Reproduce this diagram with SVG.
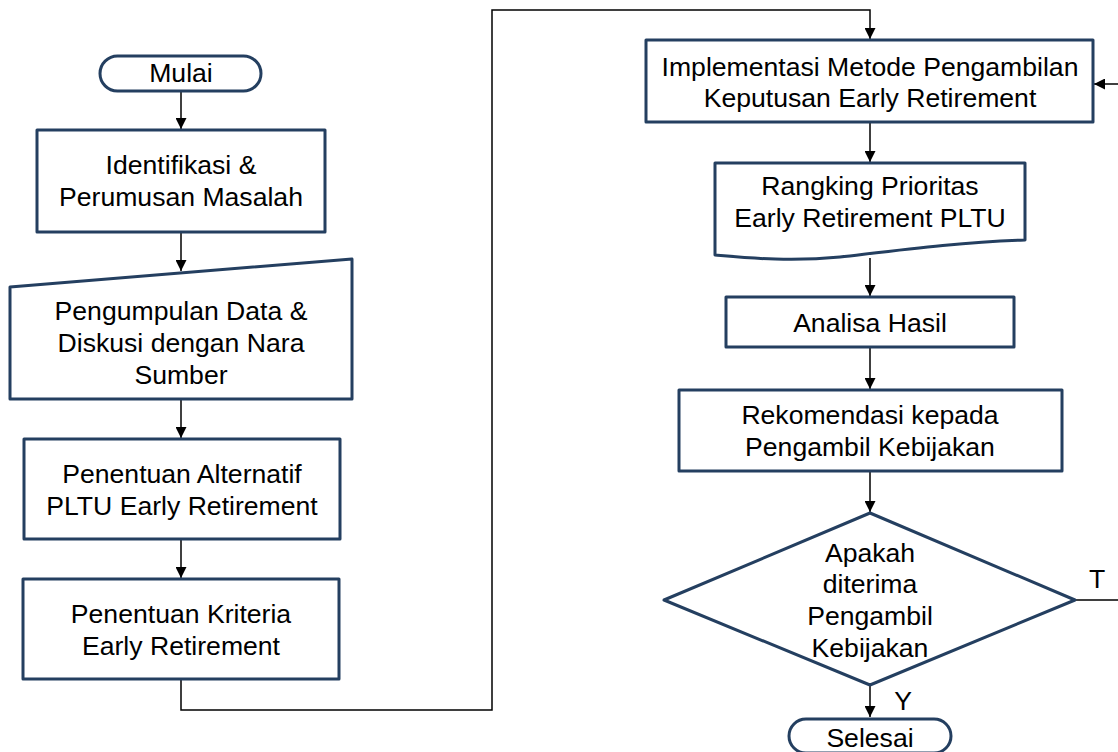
<svg xmlns="http://www.w3.org/2000/svg" width="1118" height="752" viewBox="0 0 1118 752">
<style>
.n{fill:#fff;stroke:#243F60;stroke-width:3;stroke-linejoin:round}
.c{fill:none;stroke:#000;stroke-width:1.5}
text{font-family:"Liberation Sans",Arial,sans-serif;font-size:26.6px;fill:#000;text-anchor:middle}
</style>
<defs>
<marker id="a" viewBox="0 0 10 10" refX="10" refY="5" markerWidth="11" markerHeight="11" markerUnits="userSpaceOnUse" orient="auto">
<path d="M0,0 L10,5 L0,10 z" fill="#000"/>
</marker>
</defs>
<rect width="1118" height="752" fill="#fff"/>
<g id="connectors">
<path class="c" d="M181,92 V129" marker-end="url(#a)"/>
<path class="c" d="M181,232 V271" marker-end="url(#a)"/>
<path class="c" d="M181,399 V438" marker-end="url(#a)"/>
<path class="c" d="M181,539 V578" marker-end="url(#a)"/>
<path class="c" d="M181,679 V710 H492 V10 H870 V39" marker-end="url(#a)"/>
<path class="c" d="M870,122 V162" marker-end="url(#a)"/>
<path class="c" d="M870,258 V296" marker-end="url(#a)"/>
<path class="c" d="M870,347 V389" marker-end="url(#a)"/>
<path class="c" d="M870,471 V512" marker-end="url(#a)"/>
<path class="c" d="M870,685 V717" marker-end="url(#a)"/>
<path class="c" d="M1075,600 H1130 V84 H1094" marker-end="url(#a)"/>
<text x="1097" y="588">T</text>
<text x="903" y="710">Y</text>
</g>
<g id="mulai">
<rect class="n" x="100" y="56" width="161" height="35" rx="17.5"/>
<text x="181" y="82">Mulai</text>
</g>
<g id="identifikasi">
<rect class="n" x="37" y="130" width="288" height="102"/>
<text x="181" y="174">Identifikasi &amp;</text>
<text x="181" y="206">Perumusan Masalah</text>
</g>
<g id="pengumpulan">
<polygon class="n" points="10,287 352,259 352,399 10,399"/>
<text x="181" y="320">Pengumpulan Data &amp;</text>
<text x="181" y="352">Diskusi dengan Nara</text>
<text x="181" y="384">Sumber</text>
</g>
<g id="alternatif">
<rect class="n" x="24" y="439" width="316" height="100"/>
<text x="182" y="483">Penentuan Alternatif</text>
<text x="182" y="515">PLTU Early Retirement</text>
</g>
<g id="kriteria">
<rect class="n" x="23" y="579" width="316" height="100"/>
<text x="181" y="623">Penentuan Kriteria</text>
<text x="181" y="655">Early Retirement</text>
</g>
<g id="implementasi">
<rect class="n" x="646" y="40" width="447" height="82"/>
<text x="870" y="76">Implementasi Metode Pengambilan</text>
<text x="870" y="107">Keputusan Early Retirement</text>
</g>
<g id="rangking">
<path class="n" d="M715,163 H1025 V240 C960,242 900,250 840,257 C790,262 750,258 715,255 Z"/>
<text x="870" y="195">Rangking Prioritas</text>
<text x="870" y="227">Early Retirement PLTU</text>
</g>
<g id="analisa">
<rect class="n" x="726" y="297" width="288" height="50"/>
<text x="870" y="332">Analisa Hasil</text>
</g>
<g id="rekomendasi">
<rect class="n" x="679" y="390" width="383" height="81"/>
<text x="870" y="424">Rekomendasi kepada</text>
<text x="870" y="456">Pengambil Kebijakan</text>
</g>
<g id="keputusan">
<polygon class="n" points="870,513 1075,600 870,685 664,600"/>
<text x="870" y="562">Apakah</text>
<text x="870" y="593">diterima</text>
<text x="870" y="625">Pengambil</text>
<text x="870" y="657">Kebijakan</text>
</g>
<g id="selesai">
<rect class="n" x="789" y="719" width="162" height="34" rx="17"/>
<text x="870" y="747">Selesai</text>
</g>
</svg>
